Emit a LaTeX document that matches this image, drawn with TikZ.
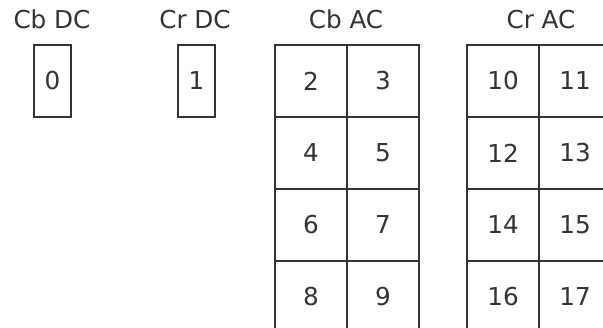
\documentclass[tikz,border=0pt]{standalone}
\usepackage{fontspec}
\setmainfont{DejaVu Sans}
\definecolor{ln}{HTML}{333333}
\definecolor{tx}{HTML}{333333}
\begin{document}
\begin{tikzpicture}[x=0.75pt,y=-0.75pt,
  cell/.style={draw=ln, line width=1.3pt, minimum width=54pt, minimum height=54pt,
    inner sep=0pt, outer sep=0pt, text=tx, font=\fontsize{18.5}{20}\selectfont, anchor=north west},
  dcbox/.style={cell, minimum width=27.75pt},
  lbl/.style={text=tx, font=\fontsize{18.5}{20}\selectfont, anchor=base, inner sep=0pt}]
\useasboundingbox (0,0) rectangle (603,328);
\clip (0,0) rectangle (603,328);
% labels
\node[lbl] (lcbdc) at (52,28.5) {Cb DC};
\node[lbl] (lcrdc) at (195,28.5) {Cr DC};
\node[lbl] (lcbac) at (346,28.5) {Cb AC};
\node[lbl] (lcrac) at (541,28.5) {Cr AC};
% DC boxes
\node[dcbox] (b0) at (34,45) {0};
\node[dcbox] (b1) at (178,45) {1};
% Cb AC grid
\foreach \r/\a/\b in {0/2/3,1/4/5,2/6/7,3/8/9} {
  \node[cell] (c\a) at (275,45+72*\r) {\a};
  \node[cell] (c\b) at (347,45+72*\r) {\b};
}
% Cr AC grid
\foreach \r/\a/\b in {0/10/11,1/12/13,2/14/15,3/16/17} {
  \node[cell] (c\a) at (467,45+72*\r) {\a};
  \node[cell] (c\b) at (539,45+72*\r) {\b};
}
\end{tikzpicture}
\end{document}
